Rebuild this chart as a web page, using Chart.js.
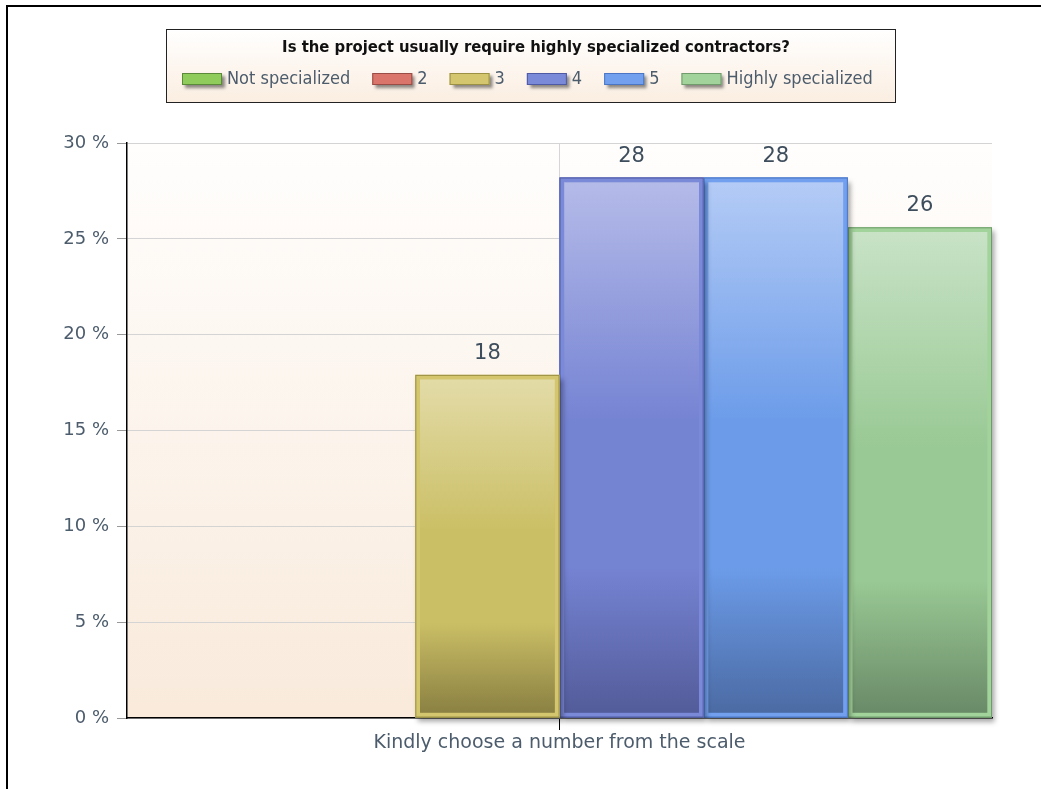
<!DOCTYPE html>
<html>
<head>
<meta charset="utf-8">
<title>Specialized contractors</title>
<script src="https://cdn.jsdelivr.net/npm/chart.js@4.4.1/dist/chart.umd.min.js"></script>
<style>
  html, body { margin: 0; padding: 0; background: #fff; }
  #wrap { width: 1041px; height: 789px; position: relative; }
</style>
</head>
<body>
<div id="wrap"><canvas id="chart" width="1041" height="789"></canvas></div>
<script>
// Survey question and answers
const chartTitle = 'Is the project usually require highly specialized contractors?';
const categories = ['Kindly choose a number from the scale'];
const seriesNames = ['Not specialized', '2', '3', '4', '5', 'Highly specialized'];
const seriesValues = [0, 0, 17.9, 28.2, 28.2, 25.6];
const yTicks = [0, 5, 10, 15, 20, 25, 30];

// Per-series colours: band (border), light top, mid, dark bottom, outline
const bandColors = ['#8fcc5c', '#d9756a', '#d3c66e', '#7b89d9', '#72a0ef', '#a2d39b'];
const topColors = ['#c6e6a8', '#eeb2aa', '#e3dca9', '#b6bce9', '#b5ccf6', '#c9e3c7'];
const midColors = ['#8fcc5c', '#d9756a', '#cbbf66', '#7583d3', '#6c9ce9', '#99c994'];
const bottomColors = ['#5d8a3a', '#8f4a42', '#877d40', '#525b98', '#4a69a1', '#688866'];
const edgeColors = ['#5b8a38', '#9a4d44', '#9c9044', '#4e5aa3', '#4a76c4', '#6f9c6a'];

const FONT = '"DejaVu Sans", Verdana, sans-serif';
const NARROW = '"Liberation Sans Narrow", "DejaVu Sans Condensed", "Liberation Sans", sans-serif';
const TEXT = '#4c5c6c';

function barGradient(ctx, i) {
    const chart = ctx.chart;
    const area = chart.chartArea;
    if (!area || ctx.type !== 'data') return midColors[i];
    const y = chart.scales.y;
    const top = y.getPixelForValue(ctx.raw);
    const bottom = y.getPixelForValue(0);
    if (bottom - top < 2) return midColors[i];
    const g = chart.ctx.createLinearGradient(0, top, 0, bottom);
    g.addColorStop(0, topColors[i]);
    g.addColorStop(0.45, midColors[i]);
    g.addColorStop(0.72, midColors[i]);
    g.addColorStop(1, bottomColors[i]);
    return g;
}

// White page, outer frame and the shaded plot area
const backdrop = {
    id: 'backdrop',
    beforeDraw(chart) {
        const { ctx, chartArea: a } = chart;
        ctx.save();
        ctx.fillStyle = '#fff';
        ctx.fillRect(0, 0, chart.width, chart.height);
        ctx.strokeStyle = '#000';
        ctx.lineWidth = 2;
        ctx.beginPath();
        ctx.moveTo(7, chart.height + 2);
        ctx.lineTo(7, 6);
        ctx.lineTo(chart.width + 2, 6);
        ctx.stroke();
        const g = ctx.createLinearGradient(0, a.top, 0, a.bottom);
        g.addColorStop(0, '#fffefd');
        g.addColorStop(1, '#f9eadb');
        ctx.fillStyle = g;
        ctx.fillRect(a.left, a.top, a.right - a.left, a.bottom - a.top);
        ctx.restore();
    }
};

// Drop shadow behind each bar, thin outline on top
const barShadow = {
    id: 'barShadow',
    beforeDatasetDraw(chart, args) {
        const ctx = chart.ctx;
        ctx.save();
        ctx.shadowColor = 'rgba(0,0,0,0.35)';
        ctx.shadowBlur = 5;
        ctx.shadowOffsetX = 3;
        ctx.shadowOffsetY = 4;
        ctx.fillStyle = edgeColors[args.index];
        args.meta.data.forEach(bar => {
            const h = bar.base - bar.y;
            if (h < 1) return;
            ctx.fillRect(bar.x - bar.width / 2, bar.y, bar.width, h);
        });
        ctx.restore();
    },
    afterDatasetDraw(chart, args) {
        const ctx = chart.ctx;
        ctx.save();
        ctx.strokeStyle = edgeColors[args.index];
        ctx.lineWidth = 1;
        args.meta.data.forEach(bar => {
            const h = bar.base - bar.y;
            if (h < 1) return;
            ctx.strokeRect(bar.x - bar.width / 2 + 0.5, bar.y + 0.5, bar.width - 1, h - 1);
        });
        ctx.restore();
    }
};

// Value labels above the bars
const valueLabels = {
    id: 'valueLabels',
    afterDatasetsDraw(chart) {
        const ctx = chart.ctx;
        ctx.save();
        ctx.font = '21px ' + FONT;
        ctx.fillStyle = '#3d4d5c';
        ctx.textAlign = 'center';
        ctx.textBaseline = 'alphabetic';
        chart.data.datasets.forEach((ds, i) => {
            const meta = chart.getDatasetMeta(i);
            meta.data.forEach((bar, j) => {
                const v = ds.data[j];
                if (!v) return;
                ctx.fillText(String(Math.round(v)), bar.x, bar.y - 16);
            });
        });
        ctx.restore();
    }
};

// Framed title + legend block at the top
const legendBox = {
    id: 'legendBox',
    afterDraw(chart) {
        const ctx = chart.ctx;
        const box = { x: 166, y: 29, w: 729, h: 73 };
        ctx.save();
        const g = ctx.createLinearGradient(0, box.y, 0, box.y + box.h);
        g.addColorStop(0, '#ffffff');
        g.addColorStop(1, '#fbeee1');
        ctx.fillStyle = g;
        ctx.fillRect(box.x, box.y, box.w, box.h);
        ctx.strokeStyle = '#222';
        ctx.lineWidth = 1;
        ctx.strokeRect(box.x + 0.5, box.y + 0.5, box.w, box.h);

        ctx.fillStyle = '#111';
        ctx.font = 'bold 16.5px ' + NARROW;
        ctx.textAlign = 'center';
        ctx.textBaseline = 'middle';
        ctx.fillText(chartTitle, 536, 48);

        ctx.font = '18px ' + NARROW;
        ctx.textAlign = 'left';
        const swW = 40, swH = 12, gapText = 5, gapItem = 22;
        let x = 182;
        const cy = 79;
        chart.data.datasets.forEach((ds, i) => {
            ctx.save();
            ctx.shadowColor = 'rgba(0,0,0,0.45)';
            ctx.shadowBlur = 3;
            ctx.shadowOffsetX = 3;
            ctx.shadowOffsetY = 3;
            ctx.fillStyle = bandColors[i];
            ctx.fillRect(x, cy - swH / 2, swW, swH);
            ctx.restore();
            ctx.strokeStyle = edgeColors[i];
            ctx.strokeRect(x + 0.5, cy - swH / 2 + 0.5, swW - 1, swH - 1);
            ctx.fillStyle = TEXT;
            ctx.fillText(ds.label, x + swW + gapText, cy);
            x += swW + gapText + ctx.measureText(ds.label).width + gapItem;
        });
        ctx.restore();
    }
};

const datasets = seriesNames.map((name, i) => ({
    label: name,
    data: [seriesValues[i]],
    backgroundColor: ctx => barGradient(ctx, i),
    borderColor: bandColors[i],
    borderWidth: 5,
    borderSkipped: false,
    categoryPercentage: 1.0,
    barPercentage: 1.0
}));

new Chart(document.getElementById('chart'), {
    type: 'bar',
    data: { labels: categories, datasets },
    plugins: [backdrop, barShadow, valueLabels, legendBox],
    options: {
        responsive: false,
        animation: false,
        layout: { padding: { top: 143, right: 49, bottom: 0, left: 0 } },
        plugins: {
            legend: { display: false },
            title: { display: false },
            tooltip: { enabled: false }
        },
        scales: {
            x: {
                afterFit(scale) { scale.height = 71; },
                grid: {
                    offset: false,
                    color: '#d6d6d6',
                    tickColor: '#000',
                    tickLength: 12,
                    lineWidth: 1
                },
                border: { color: '#000', width: 1.5 },
                ticks: { color: TEXT, font: { family: FONT, size: 19 }, padding: 2 }
            },
            y: {
                min: 0,
                max: 30,
                afterFit(scale) { scale.width = 127; },
                afterBuildTicks(scale) { scale.ticks = yTicks.map(v => ({ value: v })); },
                grid: { color: '#d4d4d4', tickColor: '#999', tickLength: 10 },
                border: { color: '#000', width: 1.5 },
                ticks: {
                    color: TEXT,
                    font: { family: FONT, size: 18 },
                    padding: 8,
                    callback: v => v + ' %'
                }
            }
        }
    }
});
</script>
</body>
</html>
